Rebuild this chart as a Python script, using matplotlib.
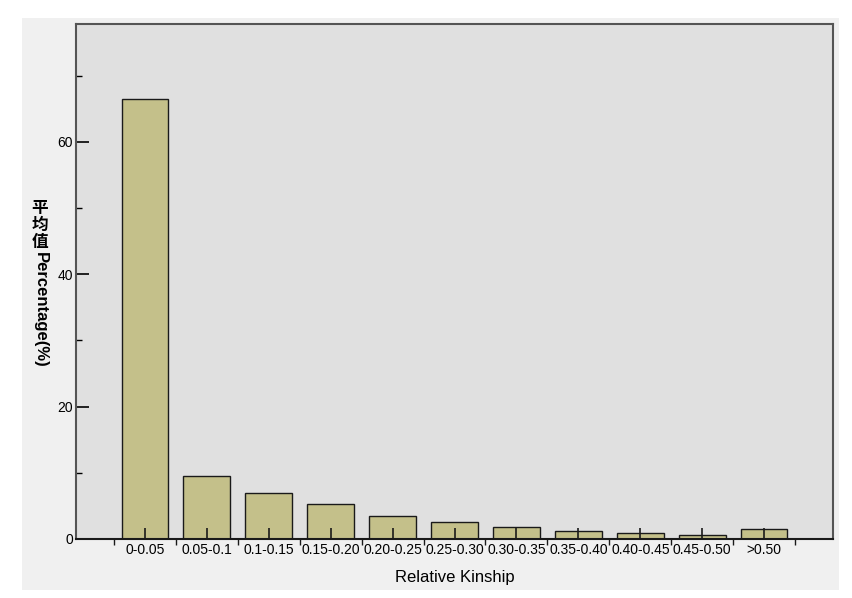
import numpy as np
import matplotlib
matplotlib.use('Agg')
import matplotlib.pyplot as plt
from matplotlib.patches import Rectangle
from matplotlib.ticker import MultipleLocator, FixedLocator

categories = ['0-0.05', '0.05-0.1', '0.1-0.15', '0.15-0.20', '0.20-0.25', '0.25-0.30',
              '0.30-0.35', '0.35-0.40', '0.40-0.45', '0.45-0.50', '>0.50']
percent = [66.5, 9.5, 6.95, 5.3, 3.5, 2.6, 1.75, 1.2, 0.85, 0.55, 1.5]
y_ticks = [0, 20, 40, 60]

plt.rcParams['font.family'] = ['Liberation Sans', 'DejaVu Sans']

fig = plt.figure(figsize=(8.53, 5.98), dpi=100)
fig.patch.set_facecolor('white')

# light grey panel behind everything
fig.patches.append(Rectangle((22 / 853, 1 - 590 / 598), (839 - 22) / 853, (590 - 18) / 598,
                             transform=fig.transFigure, facecolor='#f0f0f0',
                             edgecolor='none', zorder=-10))

ax = fig.add_axes([76 / 853, 1 - 539 / 598, (833 - 76) / 853, (539 - 24) / 598])
ax.set_facecolor('#e0e0e0')

x = np.arange(len(categories))
# default bar zorder keeps the inward ticks drawn on top of the bars
ax.bar(x, percent, width=0.75, color='#c4c08a', edgecolor='#1a1a1a', linewidth=1.0)

ax.set_xlim(-1.11, len(categories) - 1 + 1.11)
ax.set_ylim(0, 77.8)

ax.set_xticks(x)
ax.set_xticklabels(categories, fontsize=10)
ax.xaxis.set_minor_locator(FixedLocator(np.arange(len(categories) + 1) - 0.5))
ax.tick_params(axis='x', which='major', direction='in', length=8, width=1.2, pad=3, color='#1a1a1a')
ax.tick_params(axis='x', which='minor', direction='out', length=4, width=1, color='#1a1a1a')

ax.set_yticks(y_ticks)
ax.yaxis.set_minor_locator(MultipleLocator(10))
ax.tick_params(axis='y', which='major', direction='in', length=9, width=1.2, pad=2, labelsize=10)
ax.tick_params(axis='y', which='minor', direction='in', length=4, width=1)

for s in ['left', 'top', 'right']:
    ax.spines[s].set_color('#555555')
    ax.spines[s].set_linewidth(1.5)
ax.spines['bottom'].set_color('#1a1a1a')
ax.spines['bottom'].set_linewidth(1.5)

ax.set_xlabel('Relative Kinship', fontsize=12, labelpad=9)

# y label: Chinese characters stacked upright, then rotated English
fig.text(40 / 853, 1 - 225 / 598, '平\n均\n值', ha='center', va='center', fontsize=12,
         fontweight='bold', family=['Noto Sans CJK SC', 'DejaVu Sans'], linespacing=0.95)
fig.text(40 / 853, 1 - 310 / 598, 'Percentage(%)', ha='center', va='center', fontsize=12,
         fontweight='bold', rotation=270)

fig.savefig('out.png', dpi=100)
